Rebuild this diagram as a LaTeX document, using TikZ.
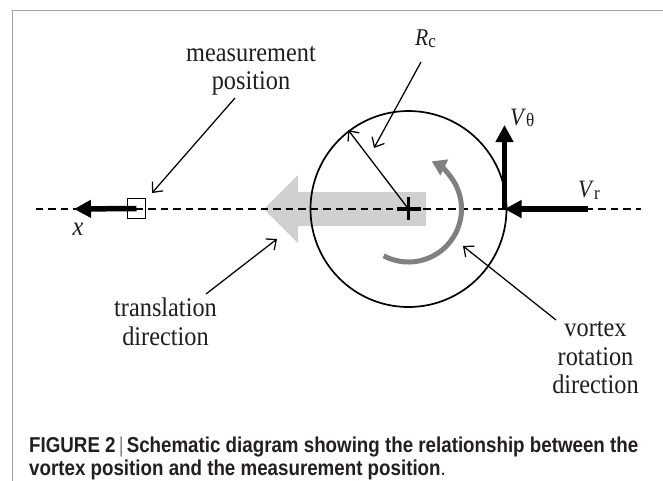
\documentclass[tikz,border=0pt]{standalone}
\usepackage{fontspec}
\setmainfont{Liberation Serif}[FakeStretch=0.9]
\newfontfamily\capfont{Liberation Sans}
\usetikzlibrary{arrows.meta}
\definecolor{framegrey}{RGB}{160,160,160}
\definecolor{bandgrey}{RGB}{208,208,208}
\definecolor{arcgrey}{RGB}{128,128,128}
\definecolor{captext}{RGB}{35,31,32}
\definecolor{capbar}{RGB}{130,130,130}
\definecolor{labeltext}{RGB}{30,30,30}
\newcommand\lowsub[2]{\raisebox{-#2}{\fontsize{19}{19}\selectfont #1}}
\newsavebox\capboxA
\newsavebox\capboxB
\newlength\capwidth
\tikzset{
  lbl/.style={font=\fontsize{27}{28.3}\selectfont, text=labeltext, inner sep=0pt, align=center},
  pointer/.style={line width=1.25pt, -{Straight Barb[length=8pt,width=14pt,line width=1.25pt]}},
  heavy/.style={line width=5.5pt, -{Triangle[length=17pt,width=17pt]}},
  axisline/.style={line width=1.4pt, dash pattern=on 7.5pt off 5pt},
}
\begin{document}
\sbox\capboxA{\capfont\fontsize{21.5}{23}\selectfont\bfseries\color{captext}FIGURE 2\,{\mdseries\color{capbar}|}\,Schematic diagram showing the relationship between the}%
\sbox\capboxB{\capfont\fontsize{21.5}{23}\selectfont\color{captext}{\bfseries vortex position and the measurement position}.}%
\setlength\capwidth{\wd\capboxA}%
\pgfmathsetmacro\capsc{609/\capwidth}%
\begin{tikzpicture}[x=1pt,y=-1pt]
\useasboundingbox (0,0) rectangle (663,480);
\fill[white] (0,0) rectangle (663,480);
% frame
\draw[framegrey, line width=1.5pt] (12.7,482) -- (12.7,10.3) -- (665,10.3);
% broad translation arrow
\fill[bandgrey] (426,192) -- (298,192) -- (298,175) -- (264,209) -- (298,243) -- (298,226) -- (426,226) -- cycle;
% axis
\coordinate (axL) at (35.5,209);
\coordinate (axR) at (640.6,209);
\draw[axisline] (axL) -- (axR);
% vortex circle
\coordinate (c) at (408.5,209);
\node[circle, draw, line width=1.7pt, minimum size=196pt, inner sep=0pt] (vortex) at (c) {};
% rotation arc
\draw[arcgrey, line width=5pt, -{Triangle[length=14pt,width=17pt]}] (c) ++(118:53) arc[start angle=118, end angle=-64, radius=53];
% cross
\draw[line width=3.2pt] ([xshift=-11.5pt]c) -- ([xshift=12pt]c) ([yshift=-11pt]c) -- ([yshift=12pt]c);
% measurement box and x arrow
\node[draw, line width=1.3pt, minimum width=18pt, minimum height=20pt, inner sep=0pt] (box) at (136.5,208.5) {};
\coordinate (xtip) at (74,209);
\draw[heavy] (box.center) -- (xtip);
\node[lbl, anchor=base, font=\fontsize{27}{28}\selectfont\itshape] (xlab) at (78,235) {x};
% V arrows
\coordinate (vp) at (504.5,209);
\coordinate (vtop) at (504.5,125);
\coordinate (vrs) at (588,209);
\draw[heavy] (vp) -- (vtop);
\draw[heavy] (vrs) -- (vp);
\node[lbl, anchor=base west, font=\fontsize{25}{28}\selectfont] (vth) at (510,125) {\textit{V}\lowsub{θ}{1pt}};
\node[lbl, anchor=base west, font=\fontsize{25}{28}\selectfont] (vr) at (578,197) {\textit{V}\lowsub{r}{2pt}};
% labels
\node[lbl, anchor=base] (meas) at (251,89.3) {measurement\\position};
\node[lbl, anchor=base west, font=\fontsize{24}{28}\selectfont] (rc) at (415,45.5) {\textit{R}\lowsub{c}{1.5pt}};
\node[lbl, anchor=base] (trans) at (165.5,345) {translation\\direction};
\node[lbl, anchor=base] (rot) at (595.5,393.3) {vortex\\rotation\\direction};
% pointers
\coordinate (mpt) at (152,193);
\coordinate (rpt) at (374,148);
\coordinate (tpt) at (277,239);
\coordinate (vpt) at (463,246);
\coordinate (rim) at (348.2,130);
\draw[pointer] ([shift={(-16,8.7)}]meas.base) -- (mpt);
\draw[pointer] ([shift={(6,16.5)}]rc.base west) -- (rpt);
\draw[pointer] ([shift={(40.5,-51)}]trans.base) -- (tpt);
\draw[pointer] ([shift={(-39.5,-73.3)}]rot.base) -- (vpt);
\draw[line width=1.3pt, -{Straight Barb[length=8pt,width=14pt,line width=1.3pt]}] (c) -- (rim);
% caption
\node[anchor=base west, inner sep=0pt] (cap1) at (29,452) {\scalebox{\capsc}[1]{\usebox\capboxA}};
\node[anchor=base west, inner sep=0pt] (cap2) at (29,475) {\scalebox{\capsc}[1]{\usebox\capboxB}};
\end{tikzpicture}
\end{document}
